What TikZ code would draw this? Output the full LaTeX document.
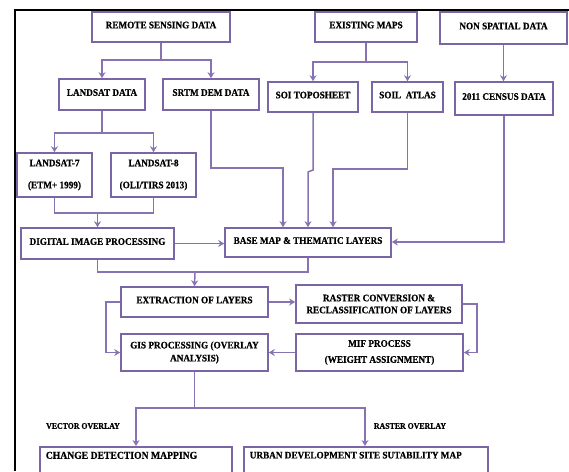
\documentclass[tikz,border=0pt]{standalone}
\usepackage{fontspec}
\setmainfont{Liberation Serif}[FakeStretch=0.92, BoldFeatures={FakeBold=0.5}]
\usetikzlibrary{arrows.meta}
\definecolor{boxc}{RGB}{122,102,165}
\definecolor{linec}{RGB}{135,115,178}
\begin{document}
\begin{tikzpicture}[x=1pt,y=-1pt,
  box/.style={draw=boxc, line width=1.6pt, fill=white, align=center, inner sep=2pt,
    font=\bfseries\fontsize{10}{12}\selectfont},
  one/.style={text depth=4pt},
  conn/.style={draw=linec, line width=1.5pt},
  arr/.style={conn, -{Stealth[length=6pt,width=7pt,inset=2pt]}},
  lbl/.style={font=\bfseries\fontsize{8.5}{10}\selectfont, inner sep=1pt}]
\useasboundingbox (0,0) rectangle (569,471);
\clip (0,0) rectangle (569,471);
% frame
\draw[line width=2.5pt] (15,471) -- (15,10) -- (569,10);
% nodes
\node[box,one,minimum width=138,minimum height=30] (rs)   at (161,27)    {REMOTE SENSING DATA};
\node[box,one,minimum width=102,minimum height=30] (em)   at (366,27)    {EXISTING MAPS};
\node[box,one,minimum width=127,minimum height=32] (ns)   at (503.5,28)  {NON SPATIAL DATA};
\node[box,one,minimum width=86, minimum height=31] (ld)   at (102,94.5)  {LANDSAT DATA};
\node[box,one,minimum width=96, minimum height=31] (srtm) at (211,94.5)  {SRTM DEM DATA};
\node[box,one,minimum width=90, minimum height=30] (soi)  at (313,97)    {SOI TOPOSHEET};
\node[box,one,minimum width=71, minimum height=30] (sa)   at (407.5,97)  {SOIL\ \ ATLAS};
\node[box,one,minimum width=98, minimum height=33] (cen)  at (504,98.5)  {2011 CENSUS DATA};
\node[box,minimum width=75, minimum height=44] (l7)   at (54.5,175)  {LANDSAT-7\\[10pt](ETM+ 1999)};
\node[box,minimum width=85, minimum height=44] (l8)   at (153.5,175) {LANDSAT-8\\[10pt](OLI/TIRS 2013)};
\node[box,one,minimum width=153,minimum height=31] (dip)  at (97.5,243.5) {DIGITAL IMAGE PROCESSING};
\node[box,one,minimum width=166,minimum height=29] (bm)   at (308,242.5) {BASE MAP \& THEMATIC LAYERS};
\node[box,one,minimum width=147,minimum height=30] (ex)   at (194.5,302) {EXTRACTION OF LAYERS};
\node[box,minimum width=166,minimum height=38] (rc)   at (379,304)   {RASTER CONVERSION \&\\RECLASSIFICATION OF LAYERS};
\node[box,minimum width=147,minimum height=37] (gis)  at (194.5,352.5) {GIS PROCESSING (OVERLAY\\[1pt]ANALYSIS)};
\node[box,minimum width=167,minimum height=37] (mif)  at (379.5,352.5) {MIF PROCESS\\[4pt](WEIGHT ASSIGNMENT)};
\node[box,anchor=north west,inner xsep=6,inner ysep=5,text depth=40pt,
  font=\bfseries\fontsize{10.5}{12}\selectfont] (cd) at (39,446) {\makebox[180pt][l]{CHANGE DETECTION MAPPING}};
\node[box,anchor=north west,inner xsep=6,inner ysep=5,text depth=40pt] (ud) at (243,446) {\makebox[232pt][l]{URBAN DEVELOPMENT SITE SUTABILITY MAP}};
\node[lbl] (vo) at (83,426)  {VECTOR OVERLAY};
\node[lbl] (ro) at (410,426) {RASTER OVERLAY};
% connectors
\coordinate (j1) at (161,60);
\draw[arr] (rs.south) -- (j1) -| (ld.north);
\draw[arr] (j1) -| (srtm.north);
\coordinate (j2) at (366,62);
\draw[arr] (em.south) -- (j2) -| (soi.north);
\draw[arr] (j2) -| (sa.north);
\draw[arr] (ns.south) -- (ns.south |- cen.north);
\coordinate (j3) at (102,133);
\draw[arr] (ld.south) -- (j3) -| (l7.north);
\draw[arr] (j3) -| (l8.north);
\coordinate (j4) at (97.5,213);
\draw[conn] (l7.south) |- (j4) -| (l8.south);
\draw[arr] (j4) -- (dip.north);
\draw[arr] (dip.east) -- (dip.east -| bm.west);
\coordinate (s1) at (283,168);
\draw[arr] (srtm.south) |- (s1) -- (s1 |- bm.north);
\coordinate (s2a) at (313,170);
\coordinate (s2b) at (308,172);
\draw[arr] (soi.south) -- (s2a) -- (s2b) -- (s2b |- bm.north);
\coordinate (s3) at (333,169);
\draw[arr] (sa.south) |- (s3) -- (s3 |- bm.north);
\coordinate (s4) at (504,242);
\draw[arr] (cen.south) -- (s4) -- (s4 -| bm.east);
\coordinate (m1) at (195,272);
\draw[conn] (dip.south) |- (m1) -| (bm.south);
\draw[arr] (m1) -- (ex.north);
\draw[arr] (ex.east) -- (ex.east -| rc.west);
\coordinate (r2) at (477,352.5);
\draw[arr] (rc.east) -| (r2) -- (mif.east);
\draw[arr] (mif.west) -- (gis.east);
\coordinate (g1) at (106,352.5);
\draw[arr] (ex.west) -| (g1) -- (gis.west);
\coordinate (g2) at (194.5,408);
\coordinate (c1) at (136,408);
\coordinate (c2) at (365,408);
\draw[conn] (gis.south) -- (g2);
\draw[arr] (g2) -- (c1) -- (c1 |- cd.north);
\draw[arr] (g2) -- (c2) -- (c2 |- ud.north);
\end{tikzpicture}
\end{document}
